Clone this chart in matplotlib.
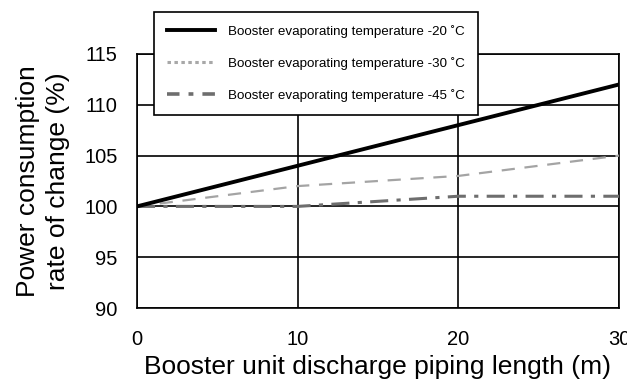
import matplotlib
matplotlib.use("Agg")
import matplotlib.pyplot as plt
from matplotlib.lines import Line2D

plt.rcParams["font.family"] = ["Liberation Sans", "DejaVu Sans"]
plt.rcParams["lines.scale_dashes"] = False

# Piping length (m) vs. power consumption change (%)
piping_len = [0, 10, 20, 30]
evap_m20 = [100, 104, 108, 112]
evap_m30 = [100, 102, 103, 105]
evap_m45 = [100, 100, 101, 101]

labels = [
    "Booster evaporating temperature -20 \u02daC",
    "Booster evaporating temperature -30 \u02daC",
    "Booster evaporating temperature -45 \u02daC",
]
x_ticks = [0, 10, 20, 30]
y_ticks = [90, 95, 100, 105, 110, 115]

W, H = 627, 388
fig = plt.figure(figsize=(W / 100, H / 100), dpi=100)
ax = fig.add_axes([137 / W, 1 - 308 / H, (619 - 137) / W, (308 - 54) / H])

ax.plot(piping_len, evap_m20, color="black", lw=2.8, zorder=4)
ax.plot(piping_len, evap_m30, color="#a4a4a4", lw=1.6,
        dashes=(9.5, 7), zorder=3)
ax.plot(piping_len, evap_m45, color="#6e6e6e", lw=2.2,
        dashes=(13, 6, 3, 6), zorder=3)

ax.set_xlim(0, 30)
ax.set_ylim(90, 115)
ax.set_xticks(x_ticks)
ax.set_yticks(y_ticks)
ax.tick_params(length=0, labelsize=14.5)
ax.tick_params(axis="y", pad=14)
ax.tick_params(axis="x", pad=16)
ax.grid(True, color="black", lw=1.2)
ax.set_axisbelow(True)
for sp in ax.spines.values():
    sp.set_linewidth(1.2)

ax.set_xlabel("Booster unit discharge piping length (m)", fontsize=19, labelpad=4)
ax.set_ylabel("Power consumption\nrate of change (%)", fontsize=19, labelpad=10,
              linespacing=1.35)

# legend handles: the -30 entry is drawn dotted in the key
handles = [
    Line2D([], [], color="black", lw=2.8),
    Line2D([], [], color="#a8a8a8", lw=2.2, dashes=(2.5, 2.5)),
    Line2D([], [], color="#6e6e6e", lw=2.6, dashes=(9, 6.5, 3.5, 6.5)),
]
leg = ax.legend(handles, labels, loc="upper left",
                bbox_to_anchor=(154 / W, 1 - 12 / H),
                bbox_transform=fig.transFigure, borderaxespad=0,
                fancybox=False, framealpha=1, edgecolor="black",
                prop={"size": 9.6},
                handlelength=3.6, handletextpad=1.0, labelspacing=1.45,
                borderpad=0.95)
leg.get_frame().set_linewidth(1.2)

fig.savefig("out.png", dpi=100)
